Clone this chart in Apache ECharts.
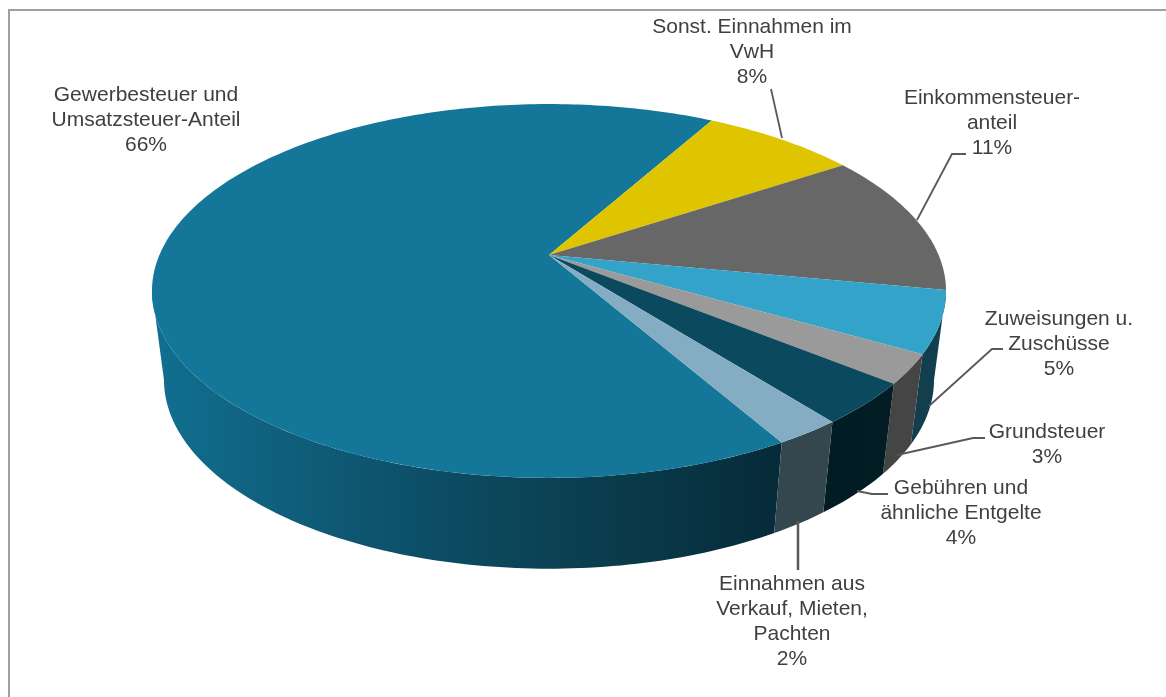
<!DOCTYPE html>
<html>
<head>
<meta charset="utf-8">
<style>html,body{margin:0;padding:0;background:#fff}#c{width:1166px;height:697px}</style>
<script src="https://cdn.jsdelivr.net/npm/echarts@6/dist/echarts.min.js"></script>
</head>
<body>
<div id="c"></div>
<script>
// Data
var categories = ['Gewerbesteuer und\nUmsatzsteuer-Anteil','Sonst. Einnahmen im\nVwH','Einkommensteuer-\nanteil','Zuweisungen u.\nZuschüsse','Grundsteuer','Gebühren und\nähnliche Entgelte','Einnahmen aus\nVerkauf, Mieten,\nPachten'];
var shares = [66.4, 7.6, 12.3, 5.3, 2.5, 3.6, 2.3];      // slice sizes as drawn
var percentLabels = ['66%','8%','11%','5%','3%','4%','2%'];

// Styles
var topColors = ['#147799','#dfc500','#676767','#33a3c9','#9a9a9a','#0b4a5e','#84adc4'];
var sideColors = [
  [[0,'#116f90'],[0.25,'#0f5c78'],[0.45,'#0c4d65'],[0.65,'#0b4152'],[1,'#062a38']],
  [[0,'#6f6200'],[1,'#6f6200']],
  [[0,'#333333'],[1,'#333333']],
  [[0,'#123d4d'],[1,'#12404f']],
  [[0,'#454545'],[1,'#454545']],
  [[0,'#021c24'],[1,'#031d25']],
  [[0,'#34474f'],[1,'#34474f']]
];
var labelAnchors = [[146,95],[752,27.5],[992,98],[1059,319],[1047,432],[961,488],[792,584]];
var leaderPaths = [
  null,
  [[771,89],[782,138]],
  [[917,220],[952,154],[966,154]],
  [[929,406],[992,349],[1003,349]],
  [[897,455],[973,438],[985,438]],
  [[857,491],[872,494],[888,494]],
  [[798,521],[798,570]]
];

// Perspective disc geometry
var TOP = {cx:549, cy:255, a:389.6, b:180, k:0.1925};
var BOT = {cx:549, cy:344, a:378, b:182, k:0.19};
var START_DEG = 29.2 - 360 * shares[0] / 100;
var SIDE_FROM = 101, SIDE_TO = 259;   // the part of the wall that faces the viewer

function project(d, deg) {
  var t = deg * Math.PI / 180, u = Math.sin(t), v = -Math.cos(t), w = 1 - d.k * v;
  return [d.cx + d.a * u / w, d.cy + d.b * v / w];
}
function arc(d, from, to) {
  var n = Math.max(2, Math.ceil(Math.abs(to - from))), pts = [];
  for (var i = 0; i <= n; i++) pts.push(project(d, from + (to - from) * i / n));
  return pts;
}
function bounds(i) {
  var sum = 0;
  for (var j = 0; j < i; j++) sum += shares[j];
  return [START_DEG + sum * 3.6, START_DEG + (sum + shares[i]) * 3.6];
}

var font = '"Liberation Sans", Arial, sans-serif';

var sideSeries = {
  type: 'custom', coordinateSystem: 'none', silent: true, z: 1,
  data: shares.map(function (s, i) { return [i, s]; }),
  renderItem: function (params, api) {
    var i = api.value(0), b = bounds(i);
    // the large slice starts before 0 deg: put its front stretch in 0..360
    var from = b[0] < 0 ? b[0] + 360 : b[0], to = b[0] < 0 ? b[1] + 360 : b[1];
    from = Math.max(from, SIDE_FROM); to = Math.min(to, SIDE_TO);
    if (to <= from) return {type: 'group', children: []};
    var ta = arc(TOP, from, to), ba = arc(BOT, from, to).reverse();
    var pts = ta.concat(ba), xs = pts.map(function (p) { return p[0]; });
    var x0 = Math.min.apply(null, xs), x1 = Math.max.apply(null, xs);
    return {
      type: 'polygon', shape: {points: pts},
      style: {
        fill: new echarts.graphic.LinearGradient(x0, 0, x1, 0,
          sideColors[i].map(function (c) { return {offset: c[0], color: c[1]}; }), true)
      }
    };
  }
};

var topSeries = {
  type: 'custom', coordinateSystem: 'none', silent: true, z: 2,
  data: shares.map(function (s, i) { return [i, s]; }),
  renderItem: function (params, api) {
    var i = api.value(0), b = bounds(i);
    var pts = [[TOP.cx, TOP.cy]].concat(arc(TOP, b[0], b[1]));
    return {type: 'polygon', shape: {points: pts}, style: {fill: topColors[i]}};
  }
};

var labelSeries = {
  type: 'custom', coordinateSystem: 'none', silent: true, z: 3,
  data: categories.map(function (c, i) { return [i]; }),
  renderItem: function (params, api) {
    var i = api.value(0), a = labelAnchors[i], kids = [];
    var text = categories[i] + '\n' + percentLabels[i];
    kids.push({
      type: 'text', x: a[0], y: a[1] - 12.5,
      style: {text: text, fill: '#404040', font: '21px ' + font, lineHeight: 25,
              align: 'center', verticalAlign: 'top'}
    });
    if (leaderPaths[i]) {
      kids.push({
        type: 'polyline', shape: {points: leaderPaths[i]},
        style: {stroke: '#595959', lineWidth: i === 6 ? 2.5 : 1.8, fill: null}
      });
    }
    return {type: 'group', children: kids};
  }
};

var chart = echarts.init(document.getElementById('c'), null, {renderer: 'canvas'});
chart.setOption({
  animation: false,
  backgroundColor: '#ffffff',
  graphic: [{
    type: 'polyline', silent: true, z: 0,
    shape: {points: [[9, 697], [9, 10], [1166, 10]]},
    style: {fill: null, stroke: '#a0a0a0', lineWidth: 2}
  }],
  series: [sideSeries, topSeries, labelSeries]
});
</script>
</body>
</html>
